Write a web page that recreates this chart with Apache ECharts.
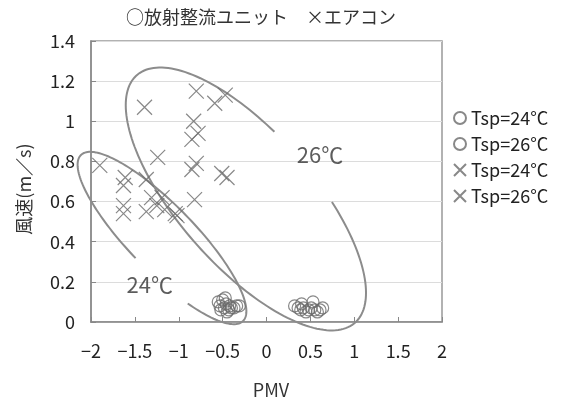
<!DOCTYPE html>
<html><head><meta charset="utf-8">
<script src="https://cdn.jsdelivr.net/npm/echarts@6/dist/echarts.min.js"></script>
<style>html,body{margin:0;padding:0;background:#fff}#c{width:570px;height:401px}</style>
</head><body><div id="c"></div>
<script>
const FONT = "'Noto Sans CJK JP', 'Noto Sans', sans-serif";
const xTicks = [-2, -1.5, -1, -0.5, 0, 0.5, 1, 1.5, 2];
const yTicks = [0, 0.2, 0.4, 0.6, 0.8, 1, 1.2, 1.4];
const seriesNames = ['c24', 'c26', 'x24', 'x26'];
const seriesLabels = {c24: 'Tsp=24°C', c26: 'Tsp=26°C', x24: 'Tsp=24°C', x26: 'Tsp=26°C'};
// 放射整流ユニット Tsp=24℃ (PMV, 風速)
const unit24 = [[-0.55,0.10],[-0.53,0.08],[-0.50,0.11],[-0.47,0.12],[-0.52,0.06],[-0.48,0.07],[-0.45,0.05],[-0.43,0.06],[-0.40,0.07],[-0.37,0.07],[-0.34,0.08],[-0.31,0.08],[-0.46,0.09],[-0.42,0.08]];
// 放射整流ユニット Tsp=26℃
const unit26 = [[0.32,0.08],[0.36,0.07],[0.39,0.06],[0.42,0.07],[0.45,0.05],[0.48,0.06],[0.51,0.07],[0.53,0.10],[0.55,0.06],[0.58,0.05],[0.61,0.06],[0.64,0.07],[0.40,0.09]];
// エアコン Tsp=24℃
const ac24 = [[-1.90,0.78],[-1.61,0.72],[-1.63,0.68],[-1.37,0.71],[-1.63,0.58],[-1.63,0.54],[-1.37,0.55],[-1.31,0.62],[-1.19,0.62],[-1.25,0.58],[-1.16,0.56],[-1.04,0.54],[-1.02,0.53]];
// エアコン Tsp=26℃
const ac26 = [[-0.80,1.15],[-1.39,1.07],[-0.59,1.09],[-0.47,1.13],[-0.83,1.00],[-0.78,0.94],[-0.85,0.91],[-1.24,0.82],[-0.80,0.79],[-0.85,0.76],[-0.51,0.74],[-0.45,0.72],[-0.82,0.61]];
// annotation ellipses: centers (PMV, 風速)
const ellipseCenters = [[-1.191,0.4185],[-0.235,0.613]];
const ellipseLabels = [{name:'24℃', value:[-1.33,0.184]},{name:'26℃', value:[0.61,0.832]}];

const ellipseShape = [
  {a:1.322, b:0.376, ang:45.7, t0:304, t1:628},
  {a:1.88, b:0.764, ang:48.6, t0:101, t1:430}
];

const CROSS = 'path://M0,0L10,10M10,0L0,10';
const markColor = '#6a6a6a';

function circleSeries(name, data){
  return {name, type:'scatter', data, symbol:'circle', symbolSize:12,
    itemStyle:{color:'rgba(0,0,0,0)', borderColor:markColor, borderWidth:1.2}, z:3};
}
function crossSeries(name, data){
  return {name, type:'scatter', data, symbol:CROSS, symbolSize:15,
    itemStyle:{color:'rgba(0,0,0,0)', borderColor:markColor, borderWidth:1.2}, z:3};
}

const chart = echarts.init(document.getElementById('c'), null, {renderer:'canvas'});
chart.setOption({
  animation:false,
  backgroundColor:'#fff',
  textStyle:{fontFamily:FONT},
  title:{text:'○放射整流ユニット　×エアコン', left:256, textAlign:'center', top:3,
    textStyle:{fontFamily:FONT, fontSize:18, fontWeight:'normal', color:'#333'}},
  grid:{left:91, right:128, top:41, bottom:79, show:true, borderColor:'#999', borderWidth:1.5, backgroundColor:'transparent'},
  legend:{data:seriesNames, orient:'vertical', left:448, top:104, itemGap:8, itemWidth:12, itemHeight:12,
    formatter:n=>seriesLabels[n], textStyle:{fontFamily:FONT, fontSize:18, color:'#222', padding:[0,0,0,0]}},
  graphic:[
    {type:'text', x:24, y:189, rotation:Math.PI/2, style:{text:'風速(m／s)', fontFamily:FONT, fontSize:18, fill:'#333', align:'center', verticalAlign:'middle'}},
    {type:'text', x:271, y:390, style:{text:'PMV', fontFamily:FONT, fontSize:18, fill:'#333', align:'center', verticalAlign:'middle'}}
  ],
  xAxis:{type:'value', min:-2, max:2, interval:0.5,
    axisLine:{onZero:false, lineStyle:{color:'#888', width:1.5}}, axisTick:{inside:true, length:5, lineStyle:{color:'#888'}},
    splitLine:{show:false},
    axisLabel:{margin:20, fontSize:18, color:'#222', fontFamily:FONT,
      formatter:v=>{const s=xTicks.find(t=>Math.abs(t-v)<1e-9); return String(s===undefined?v:s).replace('-','−');}}},
  yAxis:{type:'value', min:0, max:1.4, interval:0.2,
    axisLine:{show:true, onZero:false, lineStyle:{color:'#888', width:1.5}}, axisTick:{show:true, inside:true, length:5, lineStyle:{color:'#888'}},
    splitLine:{lineStyle:{color:'#dcdcdc', width:1}},
    axisLabel:{margin:16, fontSize:18, color:'#222', fontFamily:FONT,
      formatter:v=>{const s=yTicks.find(t=>Math.abs(t-v)<1e-9); return String(s===undefined?v:s);}}},
  series:[
    circleSeries('c24', unit24),
    circleSeries('c26', unit26),
    crossSeries('x24', ac24),
    crossSeries('x26', ac26),
    {type:'custom', data:ellipseCenters, z:2, silent:true,
      renderItem:(params, api)=>{
        const e = ellipseShape[params.dataIndex];
        const p = api.coord([api.value(0), api.value(1)]);
        const k = api.size([1,0])[0];
        const A = e.a*k, B = e.b*k, th = e.ang*Math.PI/180;
        const ux = Math.cos(th), uy = Math.sin(th), vx = Math.sin(th), vy = -Math.cos(th);
        const pts = [];
        for (let t=e.t0; t<=e.t1; t+=2){
          const r = t*Math.PI/180, ca=Math.cos(r)*A, sb=Math.sin(r)*B;
          pts.push([p[0]+ca*ux+sb*vx, p[1]+ca*uy+sb*vy]);
        }
        return {type:'polyline', shape:{points:pts}, style:{stroke:'#8c8c8c', lineWidth:2, fill:null}};
      }},
    {type:'scatter', data:ellipseLabels, symbolSize:0, silent:true, z:4,
      label:{show:true, position:'inside', formatter:p=>p.name, fontFamily:FONT, fontSize:22, color:'#333'}}
  ]
});
</script></body></html>
